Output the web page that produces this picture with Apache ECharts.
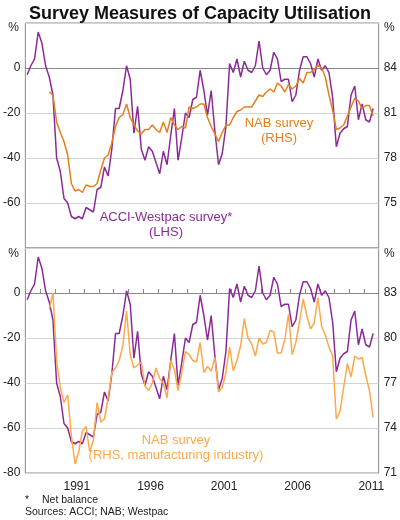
<!DOCTYPE html>
<html>
<head>
<meta charset="UTF-8">
<title>Survey Measures of Capacity Utilisation</title>
<script src="https://cdn.jsdelivr.net/npm/echarts@6/dist/echarts.min.js"></script>
<style>
  html, body { margin: 0; padding: 0; background: #fff; }
  #chart { width: 400px; height: 520px; }
</style>
</head>
<body>
<div id="chart"></div>
<script>
// quarterly data, first quarter is 1988 Q1
var startYear = 1988;

// ACCI-Westpac survey, net balance (LHS)
var acci = [
  -3, 1, 4, 16, 11, 1, -4, -12, -40, -46, -58, -60, -66, -67, -66, -67,
  -62, -63, -64, -54, -53, -44, -48, -36, -18, -18, -10, 1, -5, -29, -17, -36,
  -41, -35, -37, -42, -47, -37, -43, -30, -18, -41, -31, -20, -22, -14, -13, -1,
  -10, -21, -10, -28, -43, -38, -26, 2, -2, 4, -4, 3, -1, -2, 1, 12,
  0, -3, -1, 7, 4, -6, -5, -5, -15, -12, -1, 5, 5, 2, -4, 4,
  -1, 1, -2, -13, -35, -29, -27, -26, -12, -8, -23, -16, -23, -24, -18
];

// NAB survey, capacity utilisation % (RHS), all industries
var nab = [
  null, null, null, null, null, null, 82.4, 82.2, 80.4, 79.7, 79.1, 78.2, 76.3, 75.8, 75.9, 75.7,
  76.2, 76.1, 76.1, 76.3, 77.2, 78.0, 78.2, 79.0, 80.1, 80.7, 80.9, 81.6, 80.7, 80.2, 79.8, 79.6,
  79.9, 79.9, 80.2, 79.9, 79.7, 80.4, 79.7, 80.7, 80.2, 79.9, 80.1, 80.0, 81.4, 81.3, 81.4, 81.6,
  81.6, 80.7, 80.1, 79.6, 79.1, 79.7, 80.2, 80.2, 80.7, 81.1, 81.2, 81.4, 81.4, 81.4, 81.8, 82.2,
  82.1, 82.4, 82.6, 82.4, 83.0, 82.8, 82.4, 82.9, 82.6, 82.8, 83.3, 83.0, 83.7, 83.7, 83.9, 84.2,
  84.0, 83.4, 82.2, 81.2, 79.9, 80.0, 80.2, 80.8, 81.4, 82.0, 81.8, 81.3, 81.5, 81.5, 80.8
];

// NAB survey, manufacturing industry (RHS)
var nabManuf = [
  null, null, null, null, null, null, 81.9, 83.0, 78.5, 76.7, 75.7, 76.2, 73.5, 71.6, 72.4, 73.8,
  74.1, 72.4, 73.2, 75.7, 74.4, 74.6, 76.0, 77.7, 78.0, 78.5, 79.5, 81.8, 78.9, 78.0, 78.2, 78.4,
  76.8, 76.5, 77.0, 78.0, 77.3, 77.0, 76.0, 78.5, 77.9, 76.5, 77.7, 79.1, 78.9, 78.5, 78.4, 79.7,
  77.7, 78.1, 77.8, 78.7, 76.4, 76.7, 77.7, 79.4, 77.8, 78.5, 79.5, 81.3, 80.0, 79.6, 78.8, 80.0,
  79.6, 79.7, 80.5, 80.4, 79.0, 79.0, 79.9, 81.6, 78.9, 79.7, 81.1, 82.6, 81.5, 80.6, 81.0, 82.7,
  80.8, 80.2, 79.4, 78.8, 74.6, 75.1, 76.7, 78.3, 77.4, 78.8, 78.6, 78.7, 77.5, 76.5, 74.7
];

var yearLabels = [1991, 1996, 2001, 2006, 2011];
var leftTicks = [-80, -60, -40, -20, 0, 20];
var rightTicksTop = [72, 75, 78, 81, 84, 87];
var rightTicksBottom = [71, 74, 77, 80, 83, 86];

var purple = '#8B2A97';
var orange = '#E3801C';
var lightOrange = '#FBA94B';
var font = 'Liberation Sans, Arial, sans-serif';

// place each quarter at its mid point on a year scale
function pairs(values) {
  return values.map(function(v, i) {
    return [startYear + i / 4 + 0.125, v];
  });
}

var chart = echarts.init(document.getElementById('chart'), null, { renderer: 'canvas' });

function yLeft(gridIndex, hideMin) {
  return {
    type: 'value', gridIndex: gridIndex, position: 'left',
    min: -80, max: 20, interval: 20,
    axisLine: { show: false }, axisTick: { show: false },
    splitLine: { show: true, lineStyle: { color: '#d4d4d4', width: 1 } },
    axisLabel: {
      margin: 5, fontSize: 12, color: '#222', fontFamily: font,
      customValues: hideMin ? leftTicks.slice(1, 5) : leftTicks.slice(0, 5)
    }
  };
}

function yRight(gridIndex, ticks, hideMin) {
  return {
    type: 'value', gridIndex: gridIndex, position: 'right',
    min: ticks[0], max: ticks[ticks.length - 1], interval: 3,
    axisLine: { show: false }, axisTick: { show: false },
    splitLine: { show: false },
    axisLabel: {
      margin: 5, fontSize: 12, color: '#222', fontFamily: font,
      customValues: hideMin ? ticks.slice(1, 5) : ticks.slice(0, 5)
    }
  };
}

function xAxis(gridIndex, labels) {
  return {
    type: 'value', gridIndex: gridIndex,
    min: 1988, max: 2012, interval: 1,
    axisLine: { show: true, lineStyle: { color: '#8a8a8a', width: 1 } },
    axisTick: { show: labels, inside: true, length: 4, lineStyle: { color: '#8a8a8a' } },
    splitLine: { show: false },
    axisLabel: {
      show: labels, margin: 8, fontSize: 12, color: '#222', fontFamily: font,
      customValues: yearLabels.map(function(y) { return y + 0.5; }),
      formatter: function(v) { return String(Math.floor(v)); }
    }
  };
}

function text(x, y, str, color, align, size) {
  return {
    type: 'text', x: x, y: y, z: 100,
    style: {
      text: str, fill: color, fontSize: size || 13, fontFamily: font,
      align: align || 'left', verticalAlign: 'middle'
    }
  };
}

var option = {
  animation: false,
  title: {
    text: 'Survey Measures of Capacity Utilisation',
    left: 'center', top: 0,
    textStyle: { fontSize: 18, fontWeight: 'bold', color: '#111', fontFamily: font }
  },
  grid: [
    { left: 24, right: 20, top: 23, height: 225, show: true, borderColor: '#8a8a8a', borderWidth: 1 },
    { left: 24, right: 20, top: 248, height: 225, show: true, borderColor: '#8a8a8a', borderWidth: 1 }
  ],
  xAxis: [xAxis(0, false), xAxis(1, true)],
  yAxis: [
    yLeft(0, true), yRight(0, rightTicksTop, true),
    yLeft(1, false), yRight(1, rightTicksBottom, false)
  ],
  series: [
    { type: 'line', xAxisIndex: 0, yAxisIndex: 0, data: pairs(acci), symbol: 'none',
      lineStyle: { color: purple, width: 1.5 }, itemStyle: { color: purple } },
    { type: 'line', xAxisIndex: 0, yAxisIndex: 1, data: pairs(nab), symbol: 'none',
      lineStyle: { color: orange, width: 1.5 }, itemStyle: { color: orange } },
    { type: 'line', xAxisIndex: 1, yAxisIndex: 2, data: pairs(acci), symbol: 'none',
      lineStyle: { color: purple, width: 1.5 }, itemStyle: { color: purple } },
    { type: 'line', xAxisIndex: 1, yAxisIndex: 3, data: pairs(nabManuf), symbol: 'none',
      lineStyle: { color: lightOrange, width: 1.5 }, itemStyle: { color: lightOrange } }
  ],
  graphic: [
    text(19, 28, '%', '#222', 'right', 12),
    text(384, 28, '%', '#222', 'left', 12),
    text(19, 254, '%', '#222', 'right', 12),
    text(384, 254, '%', '#222', 'left', 12),
    text(279, 123, 'NAB survey', orange, 'center'),
    text(279, 138, '(RHS)', orange, 'center'),
    text(166, 217, 'ACCI-Westpac survey*', purple, 'center'),
    text(166, 232, '(LHS)', purple, 'center'),
    text(176, 440, 'NAB survey', lightOrange, 'center'),
    text(176, 455, '(RHS, manufacturing industry)', lightOrange, 'center'),
    text(25, 500, '*', '#222', 'left', 10.5),
    text(42, 500, 'Net balance', '#222', 'left', 10.5),
    text(25, 512, 'Sources: ACCI; NAB; Westpac', '#222', 'left', 10.5)
  ]
};

chart.setOption(option);
</script>
</body>
</html>
